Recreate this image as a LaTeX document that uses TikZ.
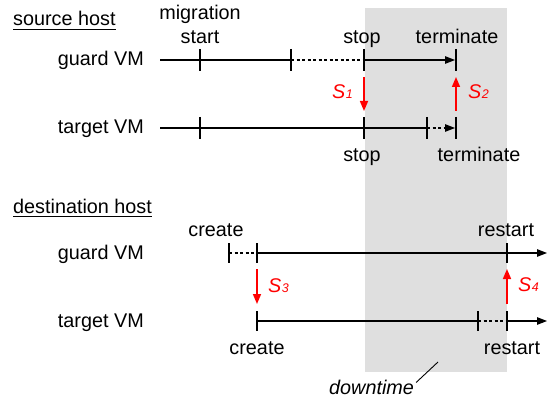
\documentclass[tikz,border=0pt]{standalone}
\usepackage{fontspec}
\setmainfont{Liberation Sans}
\usetikzlibrary{arrows.meta}
\definecolor{dtgray}{RGB}{223,223,223}
\definecolor{sred}{RGB}{255,0,0}
\begin{document}
\begin{tikzpicture}[x=1pt,y=-1pt,
  every node/.style={inner sep=0pt, font=\fontsize{19.8}{23}\selectfont},
  tl/.style={line width=1.1pt, black},
  dl/.style={tl, dash pattern=on 3pt off 2.5pt},
  tk/.style={line width=1.1pt, black},
  tip/.style={-{Triangle[length=10pt,width=7.5pt]}},
  sig/.style={sred, line width=1.6pt, -{Triangle[length=10pt,width=8pt]}},
  slbl/.style={anchor=base west, text=sred},
  ul/.style={line width=0.9pt}]
\useasboundingbox (0,0) rectangle (548,398);
% downtime region
\fill[dtgray] (365,8) rectangle (507,372);

% ---------------- source host ----------------
\node[anchor=base west] (src) at (13,26) {source host};
\draw[ul] ([yshift=-3.3pt]src.base west) -- ([yshift=-3.3pt]src.base east);

\node[anchor=base east] (sg) at (144,66) {guard VM};
\node[anchor=base east] (st) at (144,134) {target VM};

\node[anchor=base] (mig) at (200,20) {migration};
\node[anchor=base] (mst) at (200,44) {start};
\node[anchor=base] (stop1) at (362,44) {stop};
\node[anchor=base] (term1) at (457,44) {terminate};
\node[anchor=base] (stop2) at (362,161) {stop};
\node[anchor=base] (term2) at (479,161) {terminate};

% guard VM timeline (source)
\coordinate (g0) at (160,60);
\coordinate (g1) at (200,60);
\coordinate (g2) at (291,60);
\coordinate (g3) at (364,60);
\coordinate (g4) at (456,60);
\draw[tl] (g0) -- (g2);
\draw[dl] (g2) -- (g3);
\draw[tl,tip] (g3) -- ([xshift=-1pt]g4);
\foreach \p in {g1,g2,g3,g4} \draw[tk] ([yshift=11pt]\p) -- ([yshift=-11pt]\p);

% target VM timeline (source)
\coordinate (t0) at (160,128);
\coordinate (t1) at (200,128);
\coordinate (t2) at (364,128);
\coordinate (t3) at (427,128);
\coordinate (t4) at (456,128);
\draw[tl] (t0) -- (t3);
\draw[dl,tip] (t3) -- ([xshift=-1pt]t4);
\foreach \p in {t1,t2,t3,t4} \draw[tk] ([yshift=11pt]\p) -- ([yshift=-11pt]\p);

% signals
\draw[sig] ([yshift=-17pt]g3) -- ([yshift=17pt]t2);
\node[slbl] (s1) at (332,99) {\itshape S\kern0.5pt{\fontsize{12.5}{14}\selectfont 1}};
\draw[sig] ([yshift=17pt]t4) -- ([yshift=-17pt]g4);
\node[slbl] (s2) at (468,99) {\itshape S\kern0.5pt{\fontsize{12.5}{14}\selectfont 2}};

% ---------------- destination host ----------------
\node[anchor=base west] (dst) at (13,213) {destination host};
\draw[ul] ([yshift=-3.3pt]dst.base west) -- ([yshift=-3.3pt]dst.base east);

\node[anchor=base east] (dg) at (144,259) {guard VM};
\node[anchor=base east] (dtv) at (144,327) {target VM};

\node[anchor=base] (cr1) at (216,236) {create};
\node[anchor=base] (rs1) at (506,236) {restart};
\node[anchor=base] (cr2) at (257,354) {create};
\node[anchor=base] (rs2) at (512,354) {restart};

% guard VM timeline (destination)
\coordinate (h1) at (229,253);
\coordinate (h2) at (257,253);
\coordinate (h3) at (507,253);
\coordinate (h4) at (547,253);
\draw[dl] (h1) -- (h2);
\draw[tl,tip] (h2) -- (h4);
\foreach \p in {h1,h2,h3} \draw[tk] ([yshift=10pt]\p) -- ([yshift=-10pt]\p);

% target VM timeline (destination)
\coordinate (u1) at (257,321);
\coordinate (u2) at (478,321);
\coordinate (u3) at (507,321);
\coordinate (u4) at (547,321);
\draw[tl] (u1) -- (u2);
\draw[dl] (u2) -- (u3);
\draw[tl,tip] (u3) -- (u4);
\foreach \p in {u1,u2,u3} \draw[tk] ([yshift=10pt]\p) -- ([yshift=-10pt]\p);

% signals
\draw[sig] ([yshift=-16pt]h2) -- ([yshift=17pt]u1);
\node[slbl] (s3) at (268,292) {\itshape S\kern0.5pt{\fontsize{12.5}{14}\selectfont 3}};
\draw[sig] ([yshift=17pt]u3) -- ([yshift=-16pt]h3);
\node[slbl] (s4) at (518,291) {\itshape S\kern0.5pt{\fontsize{12.5}{14}\selectfont 4}};

% downtime label
\node[anchor=base west, font=\fontsize{19.8}{23}\selectfont\itshape] (dt) at (329,394) {downtime};
\coordinate (dtp) at (438,362);
\draw[line width=0.9pt] ([xshift=2pt,yshift=-3pt]dt.north east) -- (dtp);
\end{tikzpicture}
\end{document}
